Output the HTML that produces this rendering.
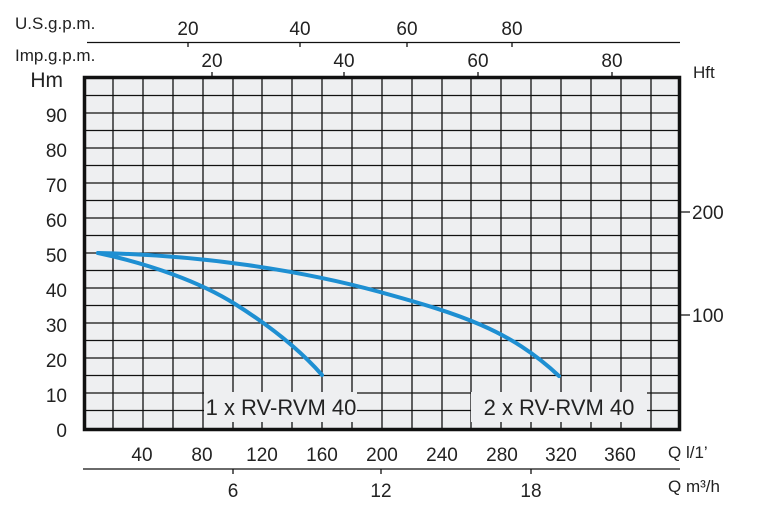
<!DOCTYPE html>
<html><head><style>
body{margin:0;background:#fff;}
svg{display:block;font-family:"Liberation Sans",sans-serif;}
</style></head><body>
<svg width="774" height="518" viewBox="0 0 774 518">
<rect x="85" y="78" width="594" height="351" fill="#eeeff1"/>
<g stroke="#111" stroke-width="1.3">
<path d="M113 78V429M143 78V429M173 78V429M203 78V429M233 78V429M262 78V429M292 78V429M322 78V429M352 78V429M382 78V429M412 78V429M442 78V429M471 78V429M501 78V429M531 78V429M561 78V429M591 78V429M621 78V429M651 78V429"/>
<path d="M85 95.5H679M85 113H679M85 130.5H679M85 148H679M85 165.5H679M85 183H679M85 200.5H679M85 218H679M85 235.5H679M85 253H679M85 270.5H679M85 288H679M85 305.5H679M85 323H679M85 340.5H679M85 358H679M85 375.5H679M85 393H679M85 410.5H679"/>
</g>
<rect x="84.5" y="77.5" width="595" height="352" fill="none" stroke="#111" stroke-width="3.5"/>
<rect x="204" y="392" width="153" height="30" fill="#eeeff1"/>
<rect x="471" y="392" width="176" height="30" fill="#eeeff1"/>
<text x="281" y="415" font-size="22" text-anchor="middle" fill="#222">1 x RV-RVM 40</text>
<text x="559" y="415" font-size="22" text-anchor="middle" fill="#222">2 x RV-RVM 40</text>
<g fill="none" stroke="#1e8fd2" stroke-width="4" stroke-linecap="round">
<path d="M98 253 C150 264 200 282 235 304 S300 350 322 375"/>
<path d="M98 253 C200 255 300 270 380 292 S510 330 559 376"/>
</g>
<g stroke="#111" stroke-width="1.3">
<path d="M87 42.5H680M188 42.5V47M300 42.5V47M407 42.5V47M512 42.5V47"/>
<path d="M212 72V77M344 72V77M478 72V77M612 72V77"/>
<path d="M680 212H690M680 315H690"/>
<path d="M83 469H680M233 469V474M381 469V474M531 469V474"/>
</g>
<g font-size="19" fill="#222" text-anchor="middle">
<text x="188" y="35">20</text><text x="300" y="35">40</text><text x="407" y="35">60</text><text x="512" y="35">80</text>
<text x="212" y="67">20</text><text x="344" y="67">40</text><text x="478" y="67">60</text><text x="612" y="67">80</text>
<text x="142" y="461">40</text><text x="202" y="461">80</text><text x="262" y="461">120</text><text x="322" y="461">160</text><text x="382" y="461">200</text><text x="442" y="461">240</text><text x="502" y="461">280</text><text x="561" y="461">320</text><text x="620" y="461">360</text>
<text x="233" y="497">6</text><text x="381" y="497">12</text><text x="531" y="497">18</text>
</g>
<g font-size="19" fill="#222" text-anchor="end">
<text x="67" y="122">90</text><text x="67" y="157">80</text><text x="67" y="192">70</text><text x="67" y="227">60</text><text x="67" y="262">50</text><text x="67" y="297">40</text><text x="67" y="332">30</text><text x="67" y="367">20</text><text x="67" y="402">10</text><text x="67" y="437">0</text>
<text x="63" y="87" font-size="21">Hm</text>
</g>
<g font-size="17" fill="#222">
<text x="15" y="29">U.S.g.p.m.</text>
<text x="15" y="61">Imp.g.p.m.</text>
<text x="693" y="78">Hft</text>
<text x="668" y="458">Q l/1’</text>
<text x="668" y="492">Q m³/h</text>
</g>
<g font-size="19" fill="#222"><text x="692" y="219">200</text><text x="692" y="322">100</text></g>
</svg>
</body></html>
